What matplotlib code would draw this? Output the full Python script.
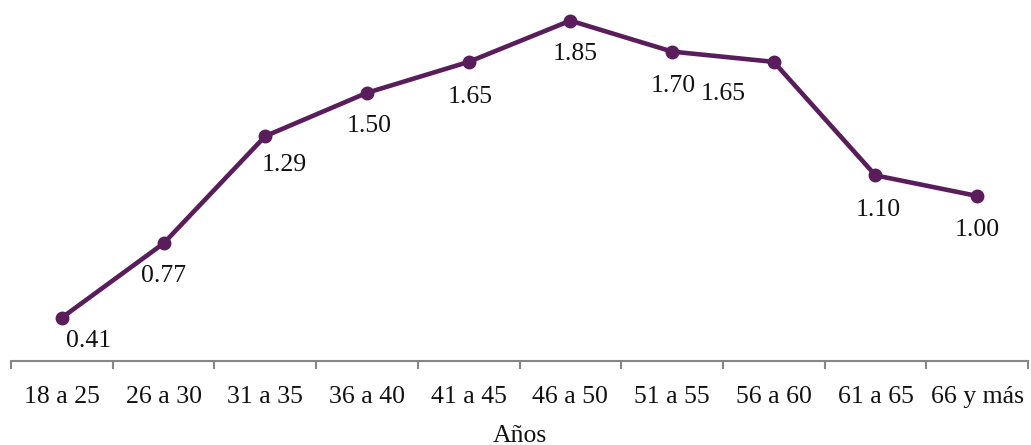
import matplotlib
matplotlib.use("Agg")
import matplotlib.pyplot as plt

categories = ["18 a 25", "26 a 30", "31 a 35", "36 a 40", "41 a 45",
              "46 a 50", "51 a 55", "56 a 60", "61 a 65", "66 y más"]
values = [0.41, 0.77, 1.29, 1.50, 1.65, 1.85, 1.70, 1.65, 1.10, 1.00]
x_label = "Años"

# label offsets in pixels (dx, dy) relative to point
label_offsets = [(27, -23), (0, -33), (19, -29), (2, -33), (2, -35),
                 (5, -33), (1, -34), (-51, -32), (3, -35), (0, -34)]

color = "#5A1D5C"
plt.rcParams['font.family'] = ['Liberation Serif', 'DejaVu Serif']

fig = plt.figure(figsize=(10.31, 4.45), dpi=100)
ax = fig.add_axes([11/1031, 84/445, 1017/1031, 361/445])

xs = list(range(len(categories)))
ax.plot(xs, values, color=color, lw=3.3, marker='o', ms=9, zorder=3, clip_on=False)
for x, v, (dx, dy) in zip(xs, values, label_offsets):
    ax.annotate(f"{v:.2f}", (x, v), xytext=(dx*0.72, dy*0.72), textcoords='offset points',
                ha='center', va='center', fontsize=18.5, color='#111111')

ax.set_xlim(-0.5, len(categories) - 0.5)
ax.set_ylim(0.2, 1.95)
ax.set_yticks([])
for s in ['top', 'right', 'left']:
    ax.spines[s].set_visible(False)
ax.spines['bottom'].set_color('#868686')
ax.spines['bottom'].set_linewidth(1.5)
ax.set_xticks([i - 0.5 for i in range(len(categories) + 1)])
ax.set_xticklabels([])
ax.set_xticks(xs, minor=True)
ax.set_xticklabels(categories, minor=True, fontsize=18.5, color='#111111')
ax.tick_params(axis='x', which='major', length=6, width=1.5, color='#868686')
ax.tick_params(axis='x', which='minor', length=0, pad=18)
ax.set_xlabel(x_label, fontsize=18.5, color='#111111', labelpad=12)

fig.savefig("out.png", dpi=100)
